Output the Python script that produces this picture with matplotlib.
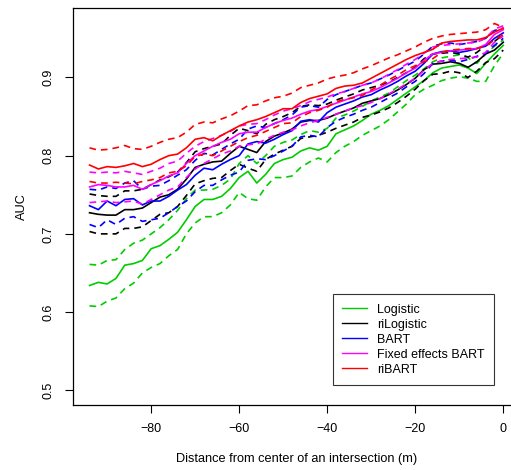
import numpy as np
import matplotlib
matplotlib.use("Agg")
import matplotlib.pyplot as plt

plt.rcParams['font.family'] = ['Liberation Sans', 'DejaVu Sans']

# distance from intersection centre (m)
dist = np.arange(-94, 1, 2)

# Logistic
logit_mid = [0.634, 0.638, 0.636, 0.643, 0.660, 0.662, 0.666, 0.681,
             0.685, 0.693, 0.702, 0.718, 0.735, 0.744, 0.744, 0.748,
             0.758, 0.772, 0.780, 0.765, 0.776, 0.790, 0.795, 0.798,
             0.806, 0.810, 0.807, 0.812, 0.828, 0.833, 0.838, 0.845,
             0.853, 0.858, 0.864, 0.872, 0.880, 0.888, 0.896, 0.906,
             0.912, 0.914, 0.916, 0.912, 0.905, 0.918, 0.930, 0.941]
logit_hi = [0.661, 0.660, 0.666, 0.667, 0.680, 0.688, 0.692, 0.700,
            0.708, 0.718, 0.730, 0.745, 0.756, 0.756, 0.757, 0.762,
            0.770, 0.790, 0.800, 0.790, 0.800, 0.812, 0.817, 0.820,
            0.827, 0.832, 0.830, 0.835, 0.848, 0.852, 0.857, 0.863,
            0.870, 0.875, 0.880, 0.888, 0.896, 0.903, 0.911, 0.920,
            0.925, 0.927, 0.929, 0.925, 0.918, 0.930, 0.940, 0.948]
logit_lo = [0.608, 0.607, 0.614, 0.618, 0.630, 0.637, 0.650, 0.657,
            0.662, 0.672, 0.680, 0.700, 0.714, 0.722, 0.722, 0.727,
            0.737, 0.753, 0.745, 0.743, 0.760, 0.772, 0.772, 0.774,
            0.785, 0.792, 0.797, 0.792, 0.804, 0.812, 0.818, 0.826,
            0.832, 0.838, 0.846, 0.856, 0.866, 0.878, 0.885, 0.890,
            0.896, 0.899, 0.901, 0.899, 0.895, 0.895, 0.915, 0.931]

# riLogistic
rilogit_mid = [0.727, 0.725, 0.724, 0.724, 0.731, 0.731, 0.733, 0.740,
               0.747, 0.750, 0.757, 0.770, 0.785, 0.789, 0.792, 0.793,
               0.803, 0.812, 0.808, 0.804, 0.818, 0.825, 0.829, 0.834,
               0.843, 0.845, 0.845, 0.848, 0.853, 0.857, 0.861, 0.867,
               0.870, 0.873, 0.878, 0.884, 0.891, 0.899, 0.910, 0.917,
               0.918, 0.920, 0.918, 0.913, 0.920, 0.930, 0.935, 0.945]
rilogit_hi = [0.751, 0.749, 0.748, 0.748, 0.755, 0.755, 0.757, 0.763,
              0.769, 0.773, 0.779, 0.791, 0.805, 0.809, 0.812, 0.815,
              0.826, 0.835, 0.832, 0.828, 0.840, 0.846, 0.850, 0.855,
              0.863, 0.865, 0.864, 0.866, 0.871, 0.875, 0.879, 0.884,
              0.887, 0.890, 0.894, 0.900, 0.906, 0.913, 0.924, 0.930,
              0.931, 0.932, 0.930, 0.926, 0.932, 0.941, 0.946, 0.955]
rilogit_lo = [0.703, 0.700, 0.700, 0.700, 0.707, 0.707, 0.709, 0.717,
              0.725, 0.727, 0.735, 0.749, 0.764, 0.768, 0.771, 0.772,
              0.781, 0.789, 0.784, 0.780, 0.795, 0.802, 0.807, 0.812,
              0.822, 0.824, 0.826, 0.830, 0.835, 0.839, 0.843, 0.849,
              0.852, 0.856, 0.861, 0.868, 0.876, 0.885, 0.896, 0.904,
              0.905, 0.908, 0.906, 0.900, 0.908, 0.919, 0.924, 0.935]

# BART
bart_mid = [0.736, 0.731, 0.742, 0.736, 0.744, 0.745, 0.737, 0.742,
            0.742, 0.748, 0.756, 0.763, 0.775, 0.784, 0.782, 0.789,
            0.795, 0.800, 0.815, 0.818, 0.816, 0.821, 0.827, 0.832,
            0.844, 0.846, 0.843, 0.855, 0.862, 0.866, 0.870, 0.875,
            0.878, 0.884, 0.889, 0.895, 0.902, 0.908, 0.918, 0.930,
            0.933, 0.934, 0.932, 0.934, 0.937, 0.940, 0.950, 0.957]
bart_hi = [0.757, 0.756, 0.760, 0.758, 0.765, 0.768, 0.757, 0.761,
           0.762, 0.768, 0.775, 0.782, 0.794, 0.803, 0.801, 0.808,
           0.815, 0.821, 0.834, 0.838, 0.836, 0.841, 0.846, 0.852,
           0.862, 0.864, 0.862, 0.872, 0.878, 0.882, 0.886, 0.890,
           0.893, 0.898, 0.903, 0.909, 0.915, 0.921, 0.930, 0.940,
           0.943, 0.944, 0.942, 0.944, 0.946, 0.950, 0.960, 0.963]
bart_lo = [0.712, 0.708, 0.718, 0.712, 0.720, 0.722, 0.716, 0.718,
           0.720, 0.727, 0.735, 0.742, 0.754, 0.762, 0.762, 0.769,
           0.775, 0.779, 0.794, 0.796, 0.795, 0.800, 0.806, 0.812,
           0.824, 0.826, 0.824, 0.836, 0.844, 0.849, 0.853, 0.858,
           0.862, 0.868, 0.874, 0.880, 0.888, 0.895, 0.905, 0.918,
           0.921, 0.922, 0.920, 0.923, 0.927, 0.931, 0.941, 0.950]

# Fixed effects BART
febart_mid = [0.760, 0.763, 0.762, 0.760, 0.760, 0.762, 0.757, 0.763,
              0.768, 0.774, 0.778, 0.790, 0.800, 0.806, 0.812, 0.817,
              0.821, 0.828, 0.830, 0.830, 0.836, 0.841, 0.845, 0.848,
              0.853, 0.857, 0.859, 0.863, 0.867, 0.871, 0.875, 0.879,
              0.882, 0.887, 0.893, 0.899, 0.906, 0.912, 0.922, 0.930,
              0.932, 0.934, 0.935, 0.936, 0.937, 0.942, 0.955, 0.961]
febart_hi = [0.779, 0.778, 0.779, 0.778, 0.780, 0.778, 0.776, 0.780,
             0.784, 0.790, 0.793, 0.803, 0.812, 0.818, 0.822, 0.826,
             0.831, 0.838, 0.840, 0.841, 0.846, 0.852, 0.857, 0.860,
             0.864, 0.869, 0.872, 0.875, 0.879, 0.882, 0.886, 0.890,
             0.893, 0.898, 0.904, 0.910, 0.917, 0.923, 0.931, 0.939,
             0.941, 0.942, 0.943, 0.944, 0.945, 0.950, 0.962, 0.966]
febart_lo = [0.740, 0.741, 0.742, 0.740, 0.741, 0.742, 0.738, 0.744,
             0.750, 0.756, 0.760, 0.772, 0.783, 0.790, 0.796, 0.802,
             0.806, 0.812, 0.814, 0.815, 0.821, 0.826, 0.830, 0.833,
             0.838, 0.842, 0.845, 0.849, 0.853, 0.857, 0.861, 0.864,
             0.868, 0.873, 0.879, 0.885, 0.892, 0.899, 0.909, 0.918,
             0.921, 0.923, 0.924, 0.925, 0.926, 0.932, 0.945, 0.953]

# riBART
ribart_mid = [0.788, 0.783, 0.786, 0.785, 0.787, 0.790, 0.786, 0.789,
              0.795, 0.800, 0.802, 0.810, 0.821, 0.823, 0.819, 0.826,
              0.832, 0.838, 0.843, 0.846, 0.850, 0.855, 0.860, 0.860,
              0.868, 0.873, 0.876, 0.879, 0.886, 0.889, 0.890, 0.893,
              0.899, 0.905, 0.911, 0.917, 0.923, 0.928, 0.932, 0.936,
              0.944, 0.946, 0.947, 0.948, 0.948, 0.951, 0.958, 0.963]
ribart_hi = [0.810, 0.807, 0.808, 0.810, 0.813, 0.809, 0.808, 0.812,
             0.817, 0.821, 0.823, 0.830, 0.840, 0.843, 0.842, 0.847,
             0.851, 0.857, 0.864, 0.865, 0.870, 0.874, 0.876, 0.880,
             0.887, 0.890, 0.893, 0.898, 0.901, 0.903, 0.906, 0.911,
             0.915, 0.920, 0.925, 0.929, 0.934, 0.939, 0.945, 0.950,
             0.953, 0.955, 0.956, 0.957, 0.958, 0.961, 0.969, 0.964]
ribart_lo = [0.767, 0.765, 0.765, 0.766, 0.765, 0.764, 0.767, 0.769,
             0.772, 0.778, 0.780, 0.787, 0.799, 0.802, 0.800, 0.806,
             0.812, 0.818, 0.823, 0.826, 0.831, 0.836, 0.841, 0.842,
             0.850, 0.855, 0.858, 0.862, 0.869, 0.872, 0.874, 0.877,
             0.884, 0.890, 0.897, 0.903, 0.910, 0.915, 0.920, 0.924,
             0.932, 0.935, 0.936, 0.937, 0.937, 0.940, 0.948, 0.955]

models = ["Logistic", "riLogistic", "BART", "Fixed effects BART", "riBART"]
colors = ["#00CD00", "black", "blue", "magenta", "red"]
curves = [(logit_mid, logit_lo, logit_hi),
          (rilogit_mid, rilogit_lo, rilogit_hi),
          (bart_mid, bart_lo, bart_hi),
          (febart_mid, febart_lo, febart_hi),
          (ribart_mid, ribart_lo, ribart_hi)]

fig = plt.figure(figsize=(5.11, 4.70), dpi=100)
# right edge of the R plot region falls outside the saved image
ax = fig.add_axes([73 / 511, 65 / 470, 446.8 / 511, 397 / 470])

for name, col, (mid, lo, hi) in zip(models, colors, curves):
    ax.plot(dist, mid, color=col, lw=1.2, label=name)
    ax.plot(dist, lo, color=col, lw=1.2, ls=(0, (4, 3)))
    ax.plot(dist, hi, color=col, lw=1.2, ls=(0, (4, 3)))

ax.set_xlim(-97.76, 3.76)
ax.set_ylim(0.4812, 0.9888)
ax.set_xticks([-80, -60, -40, -20, 0])
ax.set_yticks([0.5, 0.6, 0.7, 0.8, 0.9])
ax.tick_params(direction="out", length=6, width=0.8, labelsize=9, pad=7)
for lab in ax.get_yticklabels():
    lab.set_rotation(90)
    lab.set_va("center")
for sp in ax.spines.values():
    sp.set_linewidth(0.9)

ax.set_xlabel("Distance from center of an intersection (m)", fontsize=9.2, labelpad=13)
ax.set_ylabel("AUC", fontsize=9.2, labelpad=11)

leg = ax.legend(loc="lower left", bbox_to_anchor=((333 - 73) / 446.8, (405 - 385) / 397),
                fontsize=9, frameon=True, fancybox=False, handlelength=1.95,
                handletextpad=0.85, borderpad=0.75, labelspacing=0.24,
                borderaxespad=0)
leg.get_frame().set_edgecolor("black")
leg.get_frame().set_linewidth(0.8)
for h in leg.get_lines():
    h.set_linewidth(1.0)

fig.savefig("out.png", dpi=100)
